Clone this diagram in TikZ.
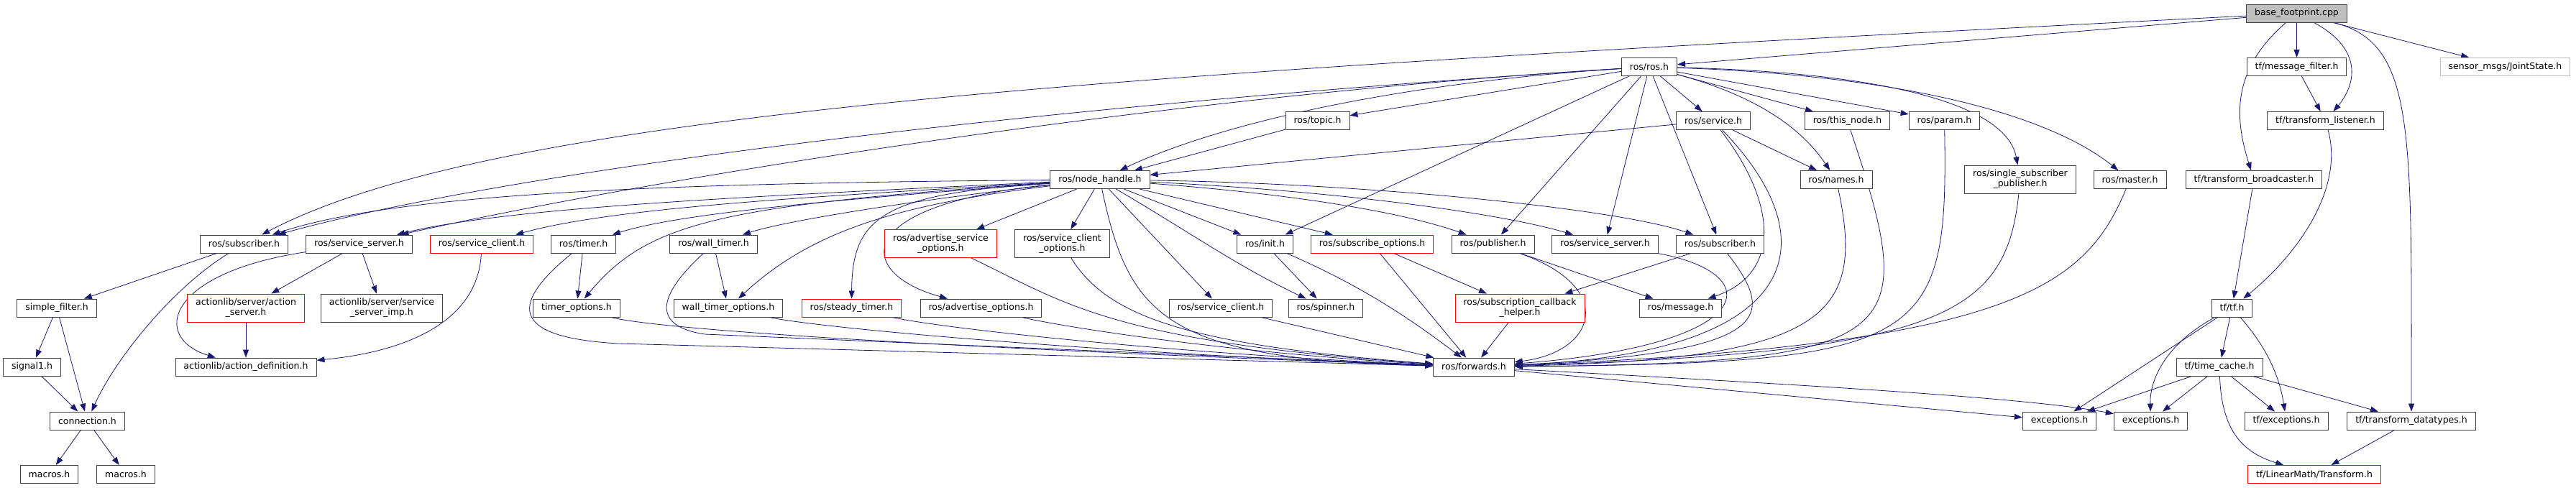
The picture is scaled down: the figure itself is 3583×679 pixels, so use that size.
\documentclass[tikz,border=0pt]{standalone}
\usepackage{fontspec}
\setmainfont{DejaVu Sans}
\usetikzlibrary{arrows.meta}
\definecolor{edgeblue}{HTML}{191970}
\definecolor{boxgrey}{HTML}{BFBFBF}
\pgfdeclarelayer{edges}
\pgfsetlayers{edges,main}

\begin{document}
\begin{tikzpicture}[x=1pt,y=1pt,
    hdr/.style={draw=black!75, line width=0.9pt, fill=white, font=\fontsize{12.5}{14}\selectfont,
        inner xsep=11.5pt, inner ysep=3pt, minimum height=25pt, align=center},
    hdrred/.style={hdr, draw=red},
    tall/.style={minimum height=39pt},
    dep/.style={draw=edgeblue, line width=0.8pt, -{Triangle[length=11pt,width=8pt]}}]
    \useasboundingbox (0,0) rectangle (3583,-679);
    \node[hdr, fill=boxgrey] (base) at (3194.5,-18.5) {base\_footprint.cpp};
    \node[hdr] (ros) at (2294,-93) {ros/ros.h};
    \node[hdr] (mfilter) at (3194.5,-93) {tf/message\_filter.h};
    \node[hdr, draw=boxgrey] (joint) at (3484.5,-93) {sensor\_msgs/JointState.h};
    \node[hdr] (topic) at (1832.5,-168) {ros/topic.h};
    \node[hdr] (service) at (2383,-168) {ros/service.h};
    \node[hdr] (thisnode) at (2569.5,-168) {ros/this\_node.h};
    \node[hdr] (param) at (2704.5,-168) {ros/param.h};
    \node[hdr] (tlisten) at (3234.5,-168) {tf/transform\_listener.h};
    \node[hdr] (nh) at (1530,-250) {ros/node\_handle.h};
    \node[hdr] (names) at (2554,-250) {ros/names.h};
    \node[hdr, tall] (ssp) at (2810,-249.5) {ros/single\_subscriber\\\_publisher.h};
    \node[hdr] (master) at (2962.5,-250) {ros/master.h};
    \node[hdr] (tbroad) at (3135,-250) {tf/transform\_broadcaster.h};
    \node[hdr] (lsub) at (339.5,-339.5) {ros/subscriber.h};
    \node[hdr] (lsrv) at (499.5,-339.5) {ros/service\_server.h};
    \node[hdrred] (lcli) at (670,-339.5) {ros/service\_client.h};
    \node[hdr] (timer) at (811.5,-339.5) {ros/timer.h};
    \node[hdr] (wtimer) at (992.5,-339.5) {ros/wall\_timer.h};
    \node[hdrred, tall] (advsrv) at (1308.5,-339) {ros/advertise\_service\\\_options.h};
    \node[hdr, tall] (clio) at (1477.5,-339) {ros/service\_client\\\_options.h};
    \node[hdr] (init) at (1759.5,-339.5) {ros/init.h};
    \node[hdrred] (subopt) at (1908.5,-339.5) {ros/subscribe\_options.h};
    \node[hdr] (pub) at (2076.5,-339.5) {ros/publisher.h};
    \node[hdr] (msrv) at (2232.5,-339.5) {ros/service\_server.h};
    \node[hdr] (msub) at (2392.5,-339.5) {ros/subscriber.h};
    \node[hdr] (sfilter) at (79,-428.5) {simple\_filter.h};
    \node[hdrred, tall] (aserver) at (342,-428.5) {actionlib/server/action\\\_server.h};
    \node[hdr, tall] (simp) at (531,-428.5) {actionlib/server/service\\\_server\_imp.h};
    \node[hdr] (topts) at (802,-428.5) {timer\_options.h};
    \node[hdr] (wtopts) at (1013,-428.5) {wall\_timer\_options.h};
    \node[hdrred] (steady) at (1184.5,-428.5) {ros/steady\_timer.h};
    \node[hdr] (advopt) at (1364.5,-428.5) {ros/advertise\_options.h};
    \node[hdr] (mcli) at (1698,-428.5) {ros/service\_client.h};
    \node[hdr] (spinner) at (1844,-428.5) {ros/spinner.h};
    \node[hdrred, tall] (cbhelp) at (2114,-428.5) {ros/subscription\_callback\\\_helper.h};
    \node[hdr] (message) at (2337.5,-428.5) {ros/message.h};
    \node[hdr] (tf) at (3104.5,-428.5) {tf/tf.h};
    \node[hdr] (signal) at (44.5,-510.5) {signal1.h};
    \node[hdr] (adef) at (342,-510.5) {actionlib/action\_definition.h};
    \node[hdr] (fwd) at (2050,-510.5) {ros/forwards.h};
    \node[hdr] (tcache) at (3087,-510.5) {tf/time\_cache.h};
    \node[hdr] (conn) at (121.5,-585.5) {connection.h};
    \node[hdr] (excA) at (2864.5,-585.5) {exceptions.h};
    \node[hdr] (excB) at (2991.5,-585.5) {exceptions.h};
    \node[hdr] (tfexc) at (3180,-585.5) {tf/exceptions.h};
    \node[hdr] (tdt) at (3354,-585.5) {tf/transform\_datatypes.h};
    \node[hdr] (macA) at (68.5,-660) {macros.h};
    \node[hdr] (macB) at (175,-660) {macros.h};
    \node[hdrred] (lmt) at (3219,-660) {tf/LinearMath/Transform.h};

    \begin{pgfonlayer}{edges}
    \foreach \t in {ros,mfilter,joint} \draw[dep] (base) -- (\t);
    \draw[dep] (base) .. controls (1600,-100) and (700,-150) .. (lsub);
    \draw[dep] (base) .. controls (3290,-70) and (3275,-120) .. (tlisten);
    \draw[dep] (base) .. controls (3100,-100) and (3110,-170) .. (tbroad);
    \draw[dep] (base) .. controls (3360,-60) and (3354,-180) .. (tdt);

    \foreach \t in {topic,service,thisnode,param,init,pub,msrv,msub} \draw[dep] (ros) -- (\t);
    \draw[dep] (ros) .. controls (1400,-150) and (700,-240) .. (lsub);
    \draw[dep] (ros) .. controls (1600,-135) and (900,-250) .. (lsrv);
    \draw[dep] (ros) .. controls (1950,-115) and (1700,-170) .. (nh);
    \draw[dep] (ros) .. controls (2430,-130) and (2500,-170) .. (names);
    \draw[dep] (ros) .. controls (2600,-100) and (2790,-140) .. (ssp);
    \draw[dep] (ros) .. controls (2650,-105) and (2850,-160) .. (master);

    \draw[dep] (topic) -- (nh);
    \draw[dep] (service) -- (nh);
    \draw[dep] (service) -- (names);
    \draw[dep] (service) .. controls (2470,-280) and (2480,-380) .. (message);
    \draw[dep] (service) .. controls (2540,-330) and (2520,-490) .. (fwd);
    \draw[dep] (names) .. controls (2595,-440) and (2540,-500) .. (fwd);
    \draw[dep] (thisnode) .. controls (2670,-470) and (2660,-505) .. (fwd);
    \draw[dep] (param) .. controls (2710,-480) and (2680,-505) .. (fwd);
    \draw[dep] (ssp) .. controls (2790,-440) and (2700,-490) .. (fwd);
    \draw[dep] (master) .. controls (2900,-400) and (2800,-480) .. (fwd);

    \draw[dep] (nh) .. controls (900,-255) and (550,-270) .. (lsub);
    \draw[dep] (nh) .. controls (1000,-275) and (700,-290) .. (lsrv);
    \draw[dep] (nh) .. controls (1100,-275) and (850,-290) .. (lcli);
    \draw[dep] (nh) .. controls (1200,-275) and (950,-295) .. (timer);
    \draw[dep] (nh) .. controls (1300,-275) and (1100,-305) .. (wtimer);
    \draw[dep] (nh) .. controls (1000,-285) and (900,-310) .. (topts);
    \draw[dep] (nh) .. controls (1250,-285) and (1130,-320) .. (wtopts);
    \draw[dep] (nh) .. controls (1230,-270) and (1185,-300) .. (steady);
    \draw[dep] (nh) .. controls (1180,-285) and (1190,-380) .. (advopt);
    \foreach \t in {advsrv,clio,mcli,init,subopt} \draw[dep] (nh) -- (\t);
    \draw[dep] (nh) .. controls (1570,-440) and (1620,-500) .. (fwd);
    \draw[dep] (nh) .. controls (1650,-320) and (1720,-370) .. (spinner);
    \draw[dep] (nh) .. controls (1800,-270) and (1950,-295) .. (pub);
    \draw[dep] (nh) .. controls (1850,-265) and (2080,-295) .. (msrv);
    \draw[dep] (nh) .. controls (1900,-255) and (2250,-290) .. (msub);

    \draw[dep] (lsub) -- (sfilter);
    \draw[dep] (lsub) .. controls (240,-400) and (160,-500) .. (conn);
    \draw[dep] (sfilter) -- (signal);
    \draw[dep] (sfilter) -- (conn);
    \draw[dep] (signal) -- (conn);
    \draw[dep] (conn) -- (macA);
    \draw[dep] (conn) -- (macB);
    \draw[dep] (lsrv) -- (aserver);
    \draw[dep] (lsrv) -- (simp);
    \draw[dep] (lsrv) .. controls (230,-380) and (210,-470) .. (adef);
    \draw[dep] (aserver) -- (adef);
    \draw[dep] (lcli) .. controls (665,-450) and (560,-490) .. (adef);

    \draw[dep] (timer) -- (topts);
    \draw[dep] (timer) .. controls (700,-430) and (720,-470) .. (860,-478) -- (fwd);
    \draw[dep] (topts) .. controls (900,-455) and (1200,-480) .. (fwd);
    \draw[dep] (wtimer) -- (wtopts);
    \draw[dep] (wtimer) .. controls (905,-420) and (915,-455) .. (980,-465) -- (fwd);
    \draw[dep] (wtopts) .. controls (1130,-455) and (1500,-490) .. (fwd);
    \draw[dep] (steady) .. controls (1300,-455) and (1600,-490) .. (fwd);
    \draw[dep] (advopt) .. controls (1480,-455) and (1700,-490) .. (fwd);
    \draw[dep] (advsrv) .. controls (1480,-420) and (1540,-475) .. (fwd);
    \draw[dep] (clio) .. controls (1540,-440) and (1650,-480) .. (fwd);
    \draw[dep] (mcli) -- (fwd);
    \draw[dep] (init) -- (spinner);
    \draw[dep] (init) .. controls (1900,-400) and (1970,-450) .. (fwd);
    \draw[dep] (subopt) -- (cbhelp);
    \draw[dep] (subopt) -- (fwd);
    \draw[dep] (cbhelp) -- (fwd);
    \draw[dep] (pub) -- (message);
    \draw[dep] (pub) .. controls (2250,-400) and (2220,-490) .. (fwd);
    \draw[dep] (msrv) .. controls (2460,-380) and (2450,-480) .. (fwd);
    \draw[dep] (msub) -- (cbhelp);
    \draw[dep] (msub) .. controls (2470,-440) and (2470,-490) .. (fwd);
    \draw[dep] (fwd) -- (excA);
    \draw[dep] (fwd) .. controls (2500,-535) and (2820,-553) .. (excB);

    \draw[dep] (mfilter) -- (tlisten);
    \draw[dep] (tlisten) .. controls (3260,-260) and (3200,-350) .. (tf);
    \draw[dep] (tbroad) -- (tf);
    \draw[dep] (tf) -- (tcache);
    \draw[dep] (tf) -- (excA);
    \draw[dep] (tf) .. controls (3010,-480) and (2990,-530) .. (excB);
    \draw[dep] (tf) .. controls (3150,-480) and (3170,-520) .. (tfexc);
    \foreach \t in {excA,excB,tfexc,tdt} \draw[dep] (tcache) -- (\t);
    \draw[dep] (tcache) .. controls (3090,-600) and (3120,-630) .. (lmt);
    \draw[dep] (tdt) -- (lmt);
    \end{pgfonlayer}
\end{tikzpicture}
\end{document}
